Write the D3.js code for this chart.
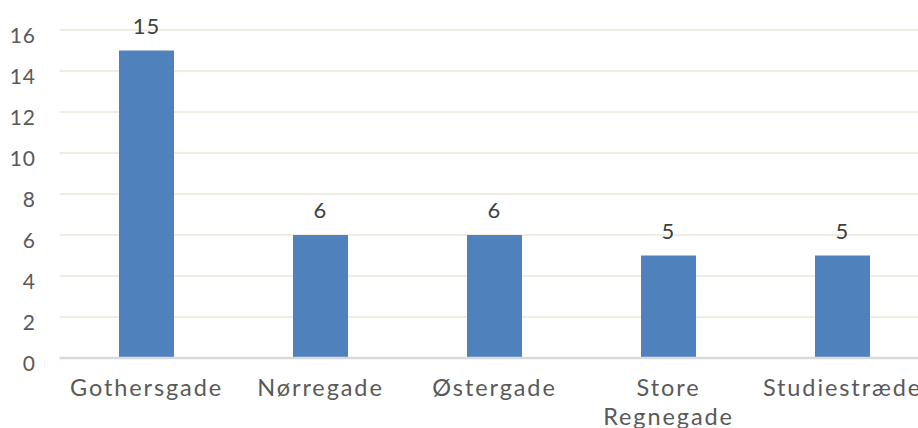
<!DOCTYPE html>
<html><head><meta charset="utf-8">
<script src="https://cdn.jsdelivr.net/npm/d3@7"></script>
<style>body{margin:0;background:#fff;}svg{display:block;}</style>
</head><body><svg id="c" width="918" height="428"></svg>
<script>
const categories = ["Gothersgade", "Nørregade", "Østergade", "Store Regnegade", "Studiestræde"];
const values = [15, 6, 6, 5, 5];
const yTicks = [0, 2, 4, 6, 8, 10, 12, 14, 16];

const svg = d3.select("#c");
const font = "Lato, 'Noto Sans', sans-serif";
const x0 = 59.5, step = 174;
const x = d3.scaleBand().domain(categories).range([x0, x0 + step * categories.length]).paddingInner(0.684).paddingOuter(0.342);
const y = d3.scaleLinear().domain([0, 16]).range([358, 30]);

const g = svg.append("g");
g.selectAll("line.grid").data(yTicks.filter(d => d > 0)).join("line")
  .attr("x1", x0).attr("x2", 918).attr("y1", d => y(d)).attr("y2", d => y(d))
  .attr("stroke", "#efede3").attr("stroke-width", 2);

g.selectAll("rect").data(values).join("rect")
  .attr("x", (d, i) => x(categories[i])).attr("width", x.bandwidth())
  .attr("y", d => y(d)).attr("height", d => y(0) - 1 - y(d))
  .attr("fill", "#4f81bd");

g.append("line").attr("x1", x0).attr("x2", 918).attr("y1", y(0)).attr("y2", y(0))
  .attr("stroke", "#d9d9d9").attr("stroke-width", 2.5);

const yAxis = d3.axisLeft(y).tickValues(yTicks).tickSize(0).tickPadding(0);
const ya = svg.append("g").attr("transform", "translate(36,5)").call(yAxis);
ya.select(".domain").remove();
ya.selectAll("text").attr("font-family", font).attr("font-size", 21).attr("fill", "#595959")
  .attr("dy", "0.35em").attr("letter-spacing", "1px");

g.selectAll("text.val").data(values).join("text").attr("class", "val")
  .attr("x", (d, i) => x(categories[i]) + x.bandwidth() / 2)
  .attr("y", d => y(d) - 17)
  .attr("text-anchor", "middle").attr("font-family", font).attr("font-size", 22).attr("fill", "#404040")
  .attr("letter-spacing", "1px")
  .text(d => d);

const xl = g.selectAll("text.cat").data(categories).join("text").attr("class", "cat")
  .attr("text-anchor", "middle").attr("font-family", font).attr("font-size", 23.5).attr("fill", "#595959")
  .attr("letter-spacing", "1.9px");
xl.each(function(d) {
  const t = d3.select(this);
  const cx = x(d) + x.bandwidth() / 2;
  const words = d === "Store Regnegade" ? ["Store", "Regnegade"] : [d];
  words.forEach((w, k) => t.append("tspan").attr("x", cx).attr("y", 396 + k * 29).text(w));
});
</script></body></html>
